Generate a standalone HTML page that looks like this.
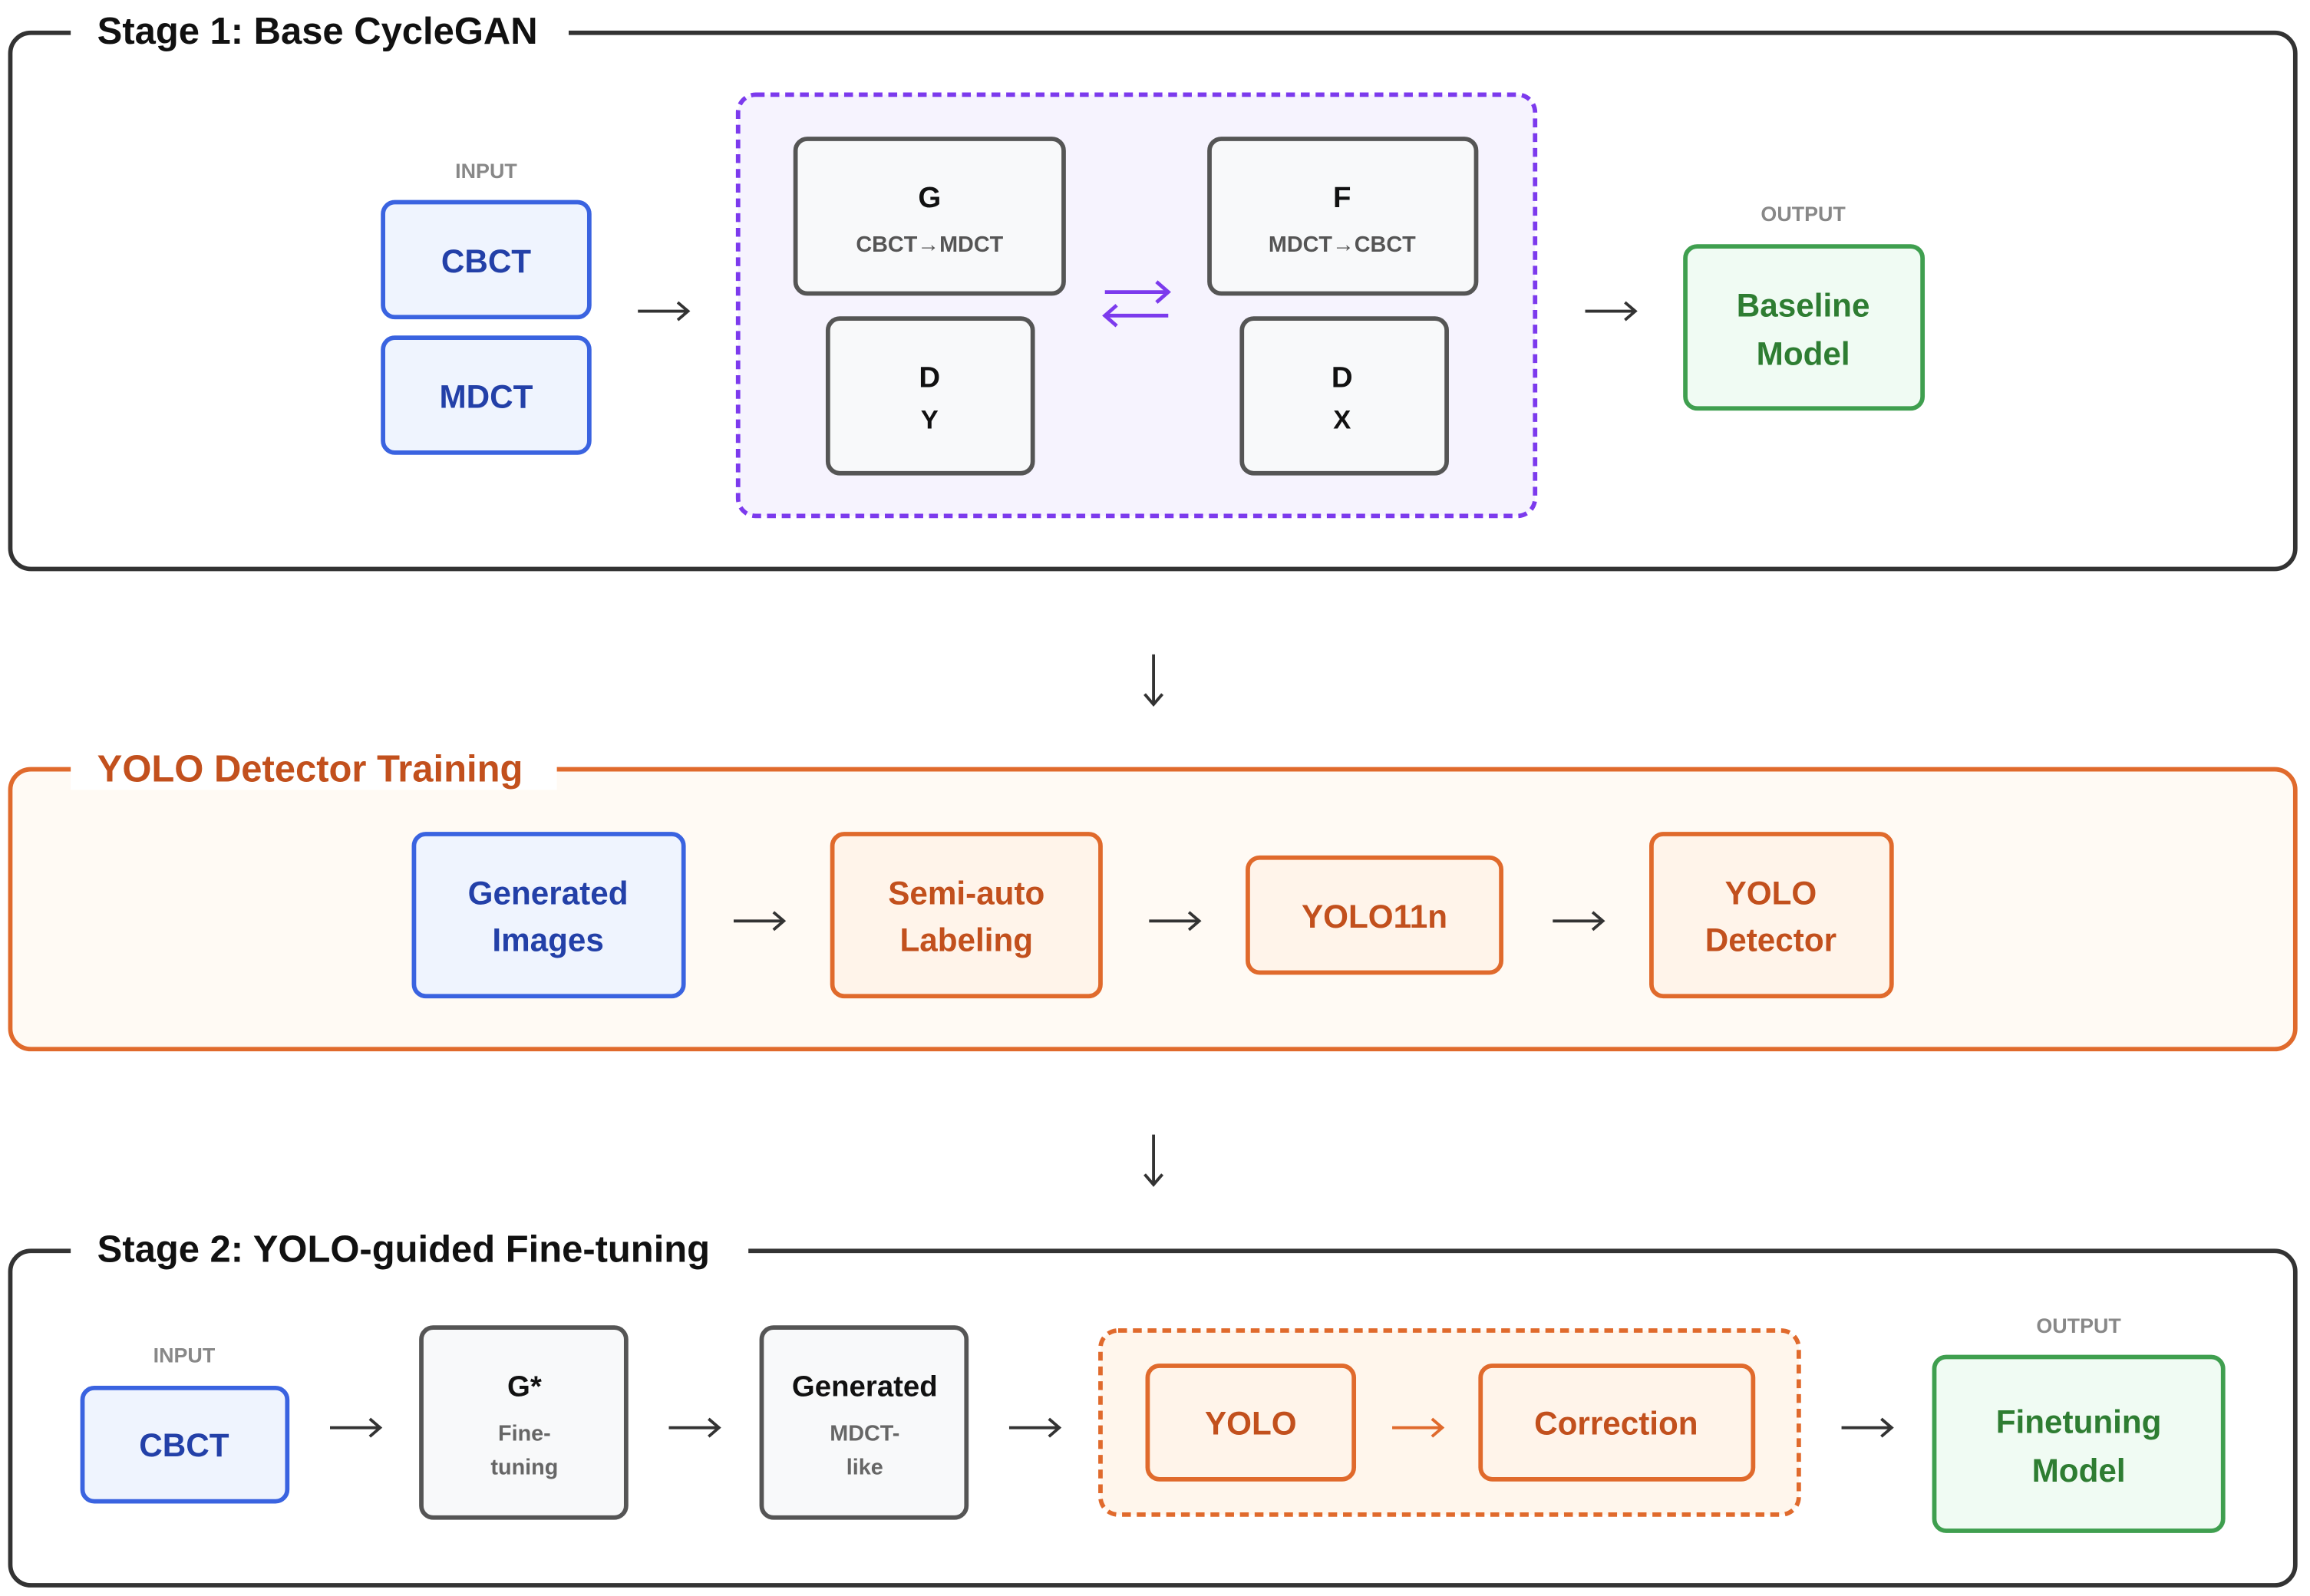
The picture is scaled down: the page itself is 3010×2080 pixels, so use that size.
<!DOCTYPE html>
<html><head><meta charset="utf-8"><style>
html,body{margin:0;padding:0;background:#fff;}
svg{display:block;}
text{font-family:"Liberation Sans",Arial,sans-serif;font-weight:bold;text-anchor:middle;dominant-baseline:central;}
</style></head><body>
<svg width="3010" height="2080" viewBox="0 0 1568 1083" xmlns="http://www.w3.org/2000/svg">
<defs>
<g id="ar"><line x1="-17" y1="0" x2="16" y2="0" stroke="#333" stroke-width="2"/><path d="M10,-6 L17,0 L10,6" fill="none" stroke="#333" stroke-width="2"/></g>
<g id="ad"><line x1="0" y1="-17" x2="0" y2="16" stroke="#333" stroke-width="2"/><path d="M-6,10 L0,17 L6,10" fill="none" stroke="#333" stroke-width="2"/></g>
</defs>
<rect width="1568" height="1083" fill="#fff"/>

<!-- Stage 1 -->
<rect x="7" y="22" width="1551" height="364" rx="14" fill="#fff" stroke="#333" stroke-width="3"/>
<rect x="48" y="8" width="338" height="28" fill="#fff"/>
<text x="66" y="21" font-size="25.5" fill="#111" style="text-anchor:start">Stage 1: Base CycleGAN</text>

<text x="330" y="116" font-size="14" fill="#888">INPUT</text>
<rect x="260" y="137" width="140" height="78" rx="8" fill="#eff4fe" stroke="#3a63e0" stroke-width="3"/>
<text x="330" y="177" font-size="22" fill="#2340a8">CBCT</text>
<rect x="260" y="229" width="140" height="78" rx="8" fill="#eff4fe" stroke="#3a63e0" stroke-width="3"/>
<text x="330" y="269" font-size="22" fill="#2340a8">MDCT</text>
<use href="#ar" x="450" y="211"/>

<rect x="501" y="64" width="541" height="286" rx="12" fill="#f6f3fe" stroke="#7c3aed" stroke-width="3" stroke-dasharray="6,4"/>
<rect x="540" y="94" width="182" height="105" rx="8" fill="#f8f9fa" stroke="#555" stroke-width="3"/>
<text x="631" y="134" font-size="20" fill="#111">G</text>
<text x="631" y="166" font-size="15" fill="#555">CBCT→MDCT</text>
<rect x="562" y="216" width="139" height="105" rx="8" fill="#f8f9fa" stroke="#555" stroke-width="3"/>
<text x="631" y="256" font-size="20" fill="#111">D</text>
<text x="631" y="285" font-size="18" fill="#111">Y</text>
<rect x="821" y="94" width="181" height="105" rx="8" fill="#f8f9fa" stroke="#555" stroke-width="3"/>
<text x="911" y="134" font-size="20" fill="#111">F</text>
<text x="911" y="166" font-size="15" fill="#555">MDCT→CBCT</text>
<rect x="843" y="216" width="139" height="105" rx="8" fill="#f8f9fa" stroke="#555" stroke-width="3"/>
<text x="911" y="256" font-size="20" fill="#111">D</text>
<text x="911" y="285" font-size="18" fill="#111">X</text>
<line x1="750" y1="198" x2="792" y2="198" stroke="#7c3aed" stroke-width="2.5"/>
<path d="M785,191 L793,198 L785,205" fill="none" stroke="#7c3aed" stroke-width="2.5"/>
<line x1="751" y1="214" x2="793" y2="214" stroke="#7c3aed" stroke-width="2.5"/>
<path d="M758,207 L750,214 L758,221" fill="none" stroke="#7c3aed" stroke-width="2.5"/>
<use href="#ar" x="1093" y="211"/>

<text x="1224" y="145" font-size="14" fill="#888">OUTPUT</text>
<rect x="1144" y="167" width="161" height="110" rx="8" fill="#f0fbf3" stroke="#3f9f4f" stroke-width="3"/>
<text x="1224" y="207" font-size="22" fill="#2e7d32">Baseline</text>
<text x="1224" y="240" font-size="22" fill="#2e7d32">Model</text>

<use href="#ad" x="783" y="461"/>

<!-- YOLO -->
<rect x="7" y="522" width="1551" height="190" rx="14" fill="#fffaf4" stroke="#e06a2c" stroke-width="3"/>
<rect x="48" y="506" width="330" height="30" fill="#fff"/>
<text x="66" y="522" font-size="25.5" fill="#c2501d" style="text-anchor:start">YOLO Detector Training</text>
<rect x="281" y="566" width="183" height="110" rx="8" fill="#eff4fe" stroke="#3a63e0" stroke-width="3"/>
<text x="372" y="606" font-size="22" fill="#2340a8">Generated</text>
<text x="372" y="638" font-size="22" fill="#2340a8">Images</text>
<use href="#ar" x="515" y="625"/>
<rect x="565" y="566" width="182" height="110" rx="8" fill="#fff4ea" stroke="#e06a2c" stroke-width="3"/>
<text x="656" y="606" font-size="22" fill="#c2501d">Semi-auto</text>
<text x="656" y="638" font-size="22" fill="#c2501d">Labeling</text>
<use href="#ar" x="797" y="625"/>
<rect x="847" y="582" width="172" height="78" rx="8" fill="#fff4ea" stroke="#e06a2c" stroke-width="3"/>
<text x="933" y="622" font-size="22" fill="#c2501d">YOLO11n</text>
<use href="#ar" x="1071" y="625"/>
<rect x="1121" y="566" width="163" height="110" rx="8" fill="#fff4ea" stroke="#e06a2c" stroke-width="3"/>
<text x="1202" y="606" font-size="22" fill="#c2501d">YOLO</text>
<text x="1202" y="638" font-size="22" fill="#c2501d">Detector</text>

<use href="#ad" x="783" y="787"/>

<!-- Stage 2 -->
<rect x="7" y="849" width="1551" height="227" rx="14" fill="#fff" stroke="#333" stroke-width="3"/>
<rect x="48" y="834" width="460" height="30" fill="#fff"/>
<text x="66" y="848" font-size="25.5" fill="#111" style="text-anchor:start">Stage 2: YOLO-guided Fine-tuning</text>

<text x="125" y="920" font-size="14" fill="#888">INPUT</text>
<rect x="56" y="942" width="139" height="77" rx="8" fill="#eff4fe" stroke="#3a63e0" stroke-width="3"/>
<text x="125" y="981" font-size="22" fill="#2340a8">CBCT</text>
<use href="#ar" x="241" y="969"/>
<rect x="286" y="901" width="139" height="129" rx="8" fill="#f8f9fa" stroke="#555" stroke-width="3"/>
<text x="356" y="941" font-size="20" fill="#111">G*</text>
<text x="356" y="973" font-size="15" fill="#666">Fine-</text>
<text x="356" y="996" font-size="15" fill="#666">tuning</text>
<use href="#ar" x="471" y="969"/>
<rect x="517" y="901" width="139" height="129" rx="8" fill="#f8f9fa" stroke="#555" stroke-width="3"/>
<text x="587" y="941" font-size="20" fill="#111">Generated</text>
<text x="587" y="973" font-size="15" fill="#666">MDCT-</text>
<text x="587" y="996" font-size="15" fill="#666">like</text>
<use href="#ar" x="702" y="969"/>
<rect x="747" y="903" width="474" height="125" rx="12" fill="#fff6ec" stroke="#e06a2c" stroke-width="3" stroke-dasharray="6,4"/>
<rect x="779" y="927" width="140" height="77" rx="8" fill="#fff4ea" stroke="#e06a2c" stroke-width="3"/>
<text x="849" y="966" font-size="22" fill="#c2501d">YOLO</text>
<line x1="945" y1="969" x2="978" y2="969" stroke="#e06a2c" stroke-width="2"/>
<path d="M972,963 L979,969 L972,975" fill="none" stroke="#e06a2c" stroke-width="2"/>
<rect x="1005" y="927" width="185" height="77" rx="8" fill="#fff4ea" stroke="#e06a2c" stroke-width="3"/>
<text x="1097" y="966" font-size="22" fill="#c2501d">Correction</text>
<use href="#ar" x="1267" y="969"/>
<text x="1411" y="900" font-size="14" fill="#888">OUTPUT</text>
<rect x="1313" y="921" width="196" height="118" rx="8" fill="#f0fbf3" stroke="#3f9f4f" stroke-width="3"/>
<text x="1411" y="965" font-size="22" fill="#2e7d32">Finetuning</text>
<text x="1411" y="998" font-size="22" fill="#2e7d32">Model</text>
</svg>
</body></html>
